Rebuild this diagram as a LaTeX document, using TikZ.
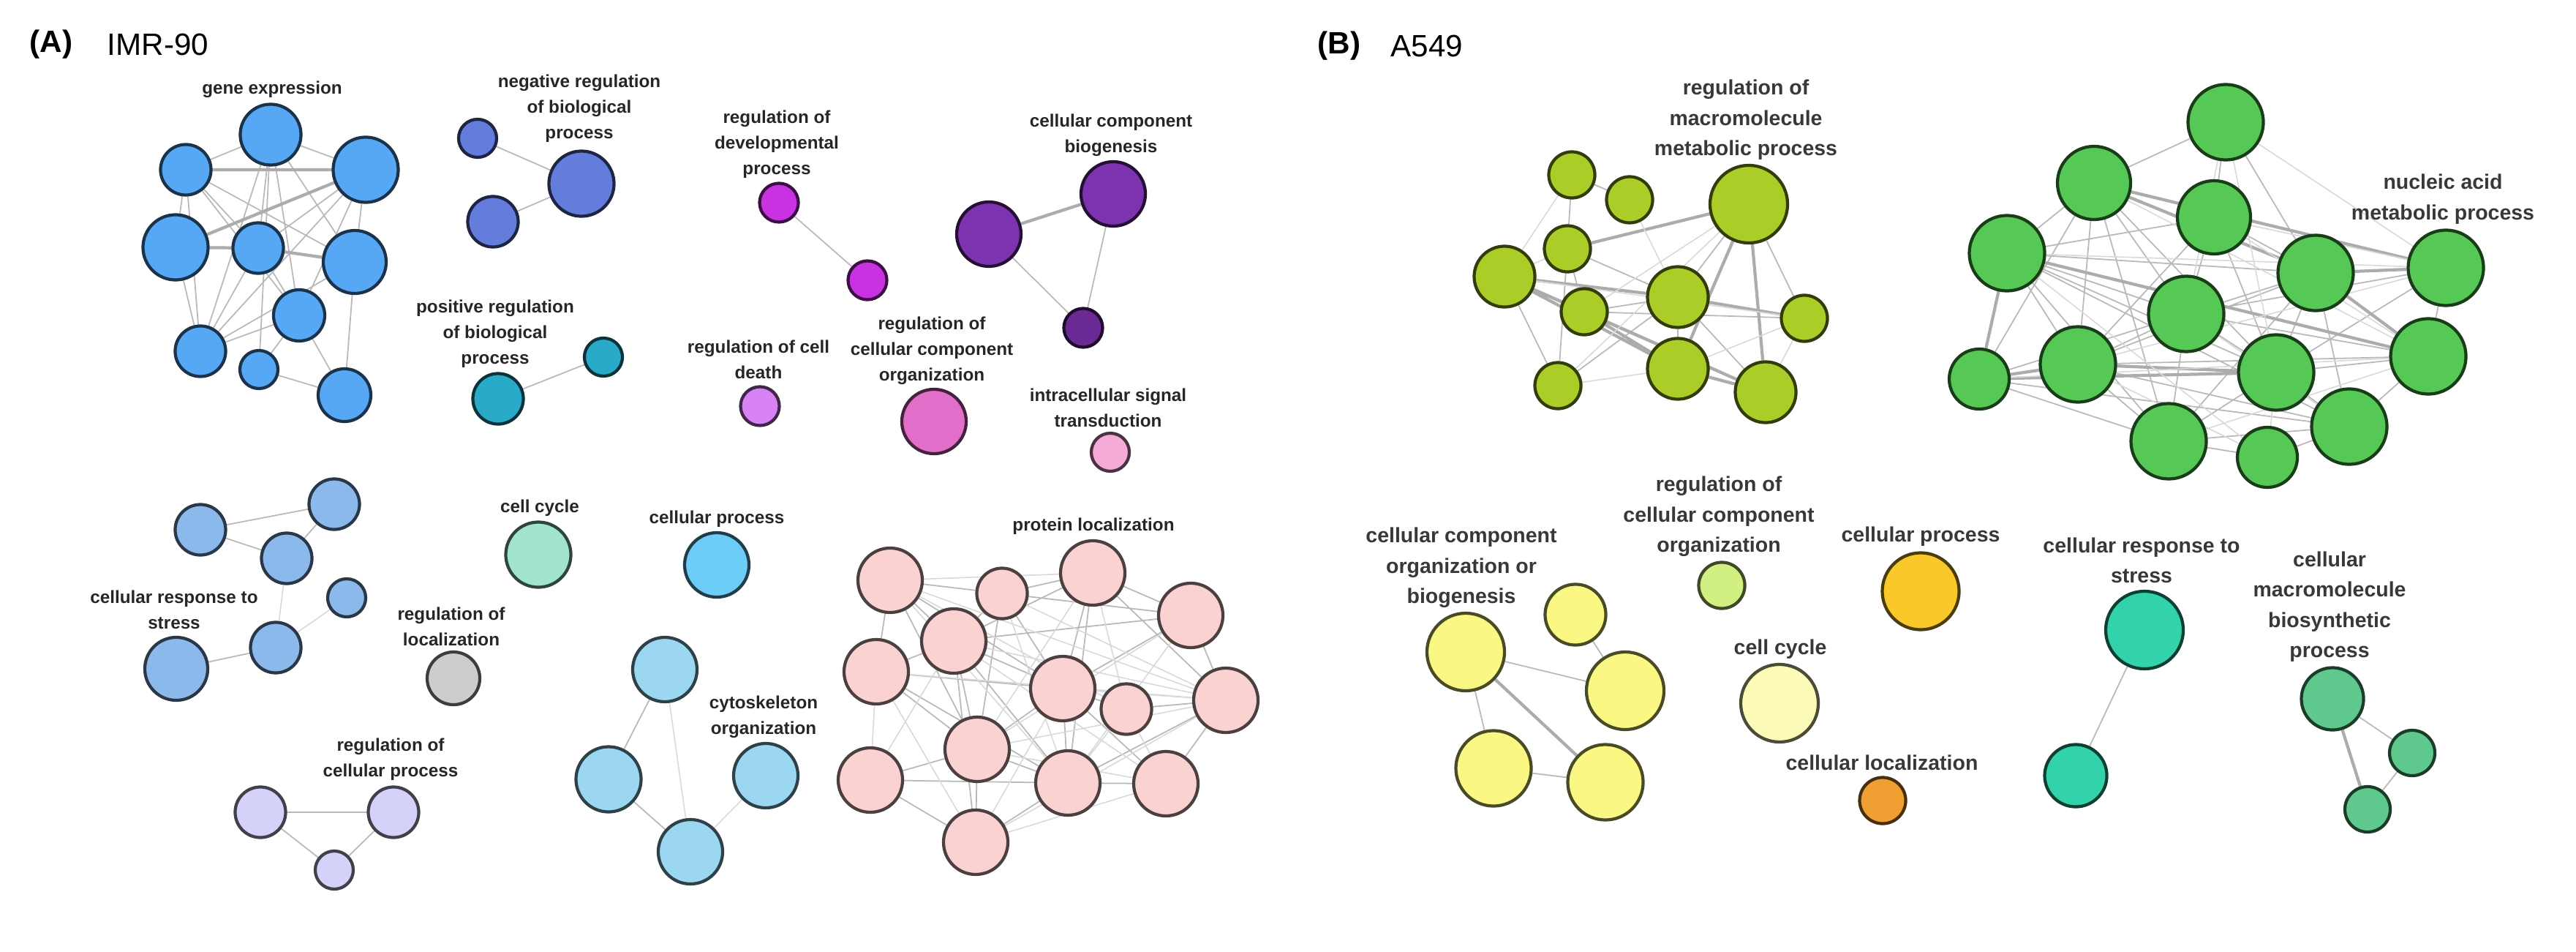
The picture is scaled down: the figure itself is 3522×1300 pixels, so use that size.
\documentclass[tikz,border=0pt]{standalone}
\usepackage{fontspec}
\setmainfont{Liberation Sans}
\usetikzlibrary{backgrounds}

% cluster colours
\definecolor{genecol}{RGB}{86,168,245}
\definecolor{negcol}{RGB}{100,125,220}
\definecolor{poscol}{RGB}{40,170,200}
\definecolor{devcol}{RGB}{200,50,225}
\definecolor{biocol}{RGB}{125,50,175}
\definecolor{deathcol}{RGB}{215,130,245}
\definecolor{rccocol}{RGB}{225,110,200}
\definecolor{sigcol}{RGB}{245,170,215}
\definecolor{stresscol}{RGB}{140,185,235}
\definecolor{cyclecol}{RGB}{160,228,208}
\definecolor{loccol}{RGB}{205,205,205}
\definecolor{rcpcol}{RGB}{212,210,248}
\definecolor{proccol}{RGB}{110,205,248}
\definecolor{cytocol}{RGB}{155,215,240}
\definecolor{protcol}{RGB}{250,210,210}
\definecolor{macrocol}{RGB}{170,205,40}
\definecolor{nuccol}{RGB}{85,200,85}
\definecolor{ccobcol}{RGB}{250,248,130}
\definecolor{rccoBcol}{RGB}{210,240,130}
\definecolor{procBcol}{RGB}{250,200,40}
\definecolor{cycleBcol}{RGB}{252,250,185}
\definecolor{cloccol}{RGB}{240,160,50}
\definecolor{stressBcol}{RGB}{50,210,170}
\definecolor{biosyncol}{RGB}{95,200,140}

\tikzset{
  term/.style={circle, inner sep=0pt, line width=1.2pt, fill=#1, draw=#1!30!black},
  labla/.style={align=center, inner sep=0pt, text=black!85,
    font=\fontsize{6.9}{10}\selectfont\bfseries},
  lablb/.style={align=center, inner sep=0pt, text=black!78,
    font=\fontsize{8.1}{11.8}\selectfont\bfseries},
  panel/.style={anchor=west, inner sep=0pt, font=\fontsize{12}{14}\selectfont},
  link/.style={gray!55, line width=0.5pt},
  heavy/.style={gray!65, line width=1.2pt},
  faint/.style={gray!30, line width=0.45pt}
}

\newcommand{\goterm}[5]{\node[term=#4, minimum size=#5*0.1mm] (#1) at (#2,#3) {};}
\newcommand{\golabel}[4]{\node[labla] (#1) at (#2,#3) {#4};}
\newcommand{\golabelb}[4]{\node[lablb] (#1) at (#2,#3) {#4};}

\begin{document}
\begin{tikzpicture}[x=0.01cm, y=-0.01cm]
        \useasboundingbox (0,0) rectangle (3522,1300);

        % panel titles
        \node[panel, font=\fontsize{12}{14}\selectfont\bfseries] (headA) at (40,61) {(A)};
        \node[panel] (cellA) at (146,61) {IMR-90};
        \node[panel, font=\fontsize{12}{14}\selectfont\bfseries] (headB) at (1801,63) {(B)};
        \node[panel] (cellB) at (1901,63) {A549};

        % gene expression
        \golabel{lgene}{372}{122}{gene expression}
        \goterm{g1}{370}{184}{genecol}{83}
        \goterm{g2}{254}{232}{genecol}{69}
        \goterm{g3}{500}{232}{genecol}{89}
        \goterm{g4}{240}{338}{genecol}{89}
        \goterm{g5}{353}{339}{genecol}{69}
        \goterm{g6}{485}{358}{genecol}{86}
        \goterm{g7}{409}{431}{genecol}{70}
        \goterm{g8}{274}{480}{genecol}{69}
        \goterm{g9}{354}{505}{genecol}{52}
        \goterm{g10}{471}{540}{genecol}{72}

        % negative regulation
        \golabel{lneg}{792}{148}{negative regulation\\of biological\\process}
        \goterm{n1}{653}{189}{negcol}{52}
        \goterm{n2}{795}{251}{negcol}{89}
        \goterm{n3}{674}{303}{negcol}{69}

        % positive regulation
        \golabel{lpos}{677}{456}{positive regulation\\of biological\\process}
        \goterm{p1}{681}{545}{poscol}{69}
        \goterm{p2}{825}{488}{poscol}{52}

        % developmental process
        \golabel{ldev}{1062}{197}{regulation of\\developmental\\process}
        \goterm{d1}{1065}{277}{devcol}{53}
        \goterm{d2}{1186}{383}{devcol}{53}

        % biogenesis
        \golabel{lbio}{1519}{185}{cellular component\\biogenesis}
        \goterm{b1}{1352}{320}{biocol}{88}
        \goterm{b2}{1522}{265}{biocol}{88}
        \goterm{b3}{1481}{448}{biocol!85!black}{53}

        % single terms, upper row
        \golabel{ldeath}{1037}{491}{regulation of cell\\death}
        \goterm{cd}{1039}{555}{deathcol}{53}
        \golabel{lrcco}{1274}{479}{regulation of\\cellular component\\organization}
        \goterm{ro}{1277}{576}{rccocol}{88}
        \golabel{lsig}{1515}{557}{intracellular signal\\transduction}
        \goterm{sig}{1518}{618}{sigcol}{52}

        % cellular response to stress
        \golabel{lstress}{238}{833}{cellular response to\\stress}
        \goterm{s1}{274}{724}{stresscol}{69}
        \goterm{s2}{457}{689}{stresscol}{69}
        \goterm{s3}{392}{763}{stresscol}{69}
        \goterm{s4}{474}{817}{stresscol}{52}
        \goterm{s5}{377}{885}{stresscol}{69}
        \goterm{s6}{241}{914}{stresscol}{86}

        % cell cycle, localization, cellular process
        \golabel{lcycle}{738}{694}{cell cycle}
        \goterm{cc}{736}{758}{cyclecol}{89}
        \golabel{lloc}{617}{856}{regulation of\\localization}
        \goterm{rl}{620}{927}{loccol}{72}
        \golabel{lproc}{980}{709}{cellular process}
        \goterm{cp}{980}{772}{proccol}{88}

        % regulation of cellular process
        \golabel{lrcp}{534}{1038}{regulation of\\cellular process}
        \goterm{r1}{356}{1110}{rcpcol}{69}
        \goterm{r2}{538}{1110}{rcpcol}{69}
        \goterm{r3}{457}{1189}{rcpcol}{52}

        % cytoskeleton
        \golabel{lcyto}{1044}{980}{cytoskeleton\\organization}
        \goterm{c1}{909}{915}{cytocol}{88}
        \goterm{c2}{832}{1065}{cytocol}{89}
        \goterm{c3}{1047}{1060}{cytocol}{88}
        \goterm{c4}{944}{1164}{cytocol}{88}

        % protein localization
        \golabel{lprot}{1495}{719}{protein localization}
        \goterm{q1}{1217}{793}{protcol}{88}
        \goterm{q2}{1370}{811}{protcol}{69}
        \goterm{q3}{1494}{783}{protcol}{88}
        \goterm{q4}{1628}{841}{protcol}{88}
        \goterm{q5}{1198}{918}{protcol}{88}
        \goterm{q6}{1304}{876}{protcol}{88}
        \goterm{q7}{1453}{941}{protcol}{88}
        \goterm{q8}{1540}{969}{protcol}{69}
        \goterm{q9}{1676}{957}{protcol}{88}
        \goterm{q10}{1190}{1066}{protcol}{88}
        \goterm{q11}{1336}{1024}{protcol}{88}
        \goterm{q12}{1460}{1070}{protcol}{88}
        \goterm{q13}{1594}{1071}{protcol}{88}
        \goterm{q14}{1334}{1151}{protcol}{88}

        % B: macromolecule metabolic process
        \golabelb{lmacro}{2387}{164}{regulation of\\macromolecule\\metabolic process}
        \goterm{m1}{2149}{239}{macrocol}{63}
        \goterm{m2}{2228}{273}{macrocol}{63}
        \goterm{m3}{2391}{279}{macrocol}{106}
        \goterm{m4}{2143}{340}{macrocol}{63}
        \goterm{m5}{2057}{378}{macrocol}{83}
        \goterm{m6}{2166}{426}{macrocol}{63}
        \goterm{m7}{2294}{406}{macrocol}{83}
        \goterm{m8}{2467}{435}{macrocol}{63}
        \goterm{m9}{2130}{527}{macrocol}{63}
        \goterm{m10}{2294}{504}{macrocol}{83}
        \goterm{m11}{2414}{536}{macrocol}{83}

        % B: nucleic acid metabolic process
        \golabelb{lnuc}{3340}{272}{nucleic acid\\metabolic process}
        \goterm{k1}{3043}{167}{nuccol}{103}
        \goterm{k2}{2863}{250}{nuccol}{100}
        \goterm{k3}{3027}{297}{nuccol}{100}
        \goterm{k4}{2744}{346}{nuccol}{103}
        \goterm{k5}{3166}{373}{nuccol}{103}
        \goterm{k6}{3344}{366}{nuccol}{103}
        \goterm{k7}{2989}{429}{nuccol}{103}
        \goterm{k8}{2706}{518}{nuccol}{82}
        \goterm{k9}{2841}{498}{nuccol}{103}
        \goterm{k10}{3112}{509}{nuccol}{103}
        \goterm{k11}{3320}{487}{nuccol}{103}
        \goterm{k12}{2965}{603}{nuccol}{103}
        \goterm{k13}{3100}{625}{nuccol}{82}
        \goterm{k14}{3212}{583}{nuccol}{103}

        % B: organization or biogenesis
        \golabelb{lccob}{1998}{776}{cellular component\\organization or\\biogenesis}
        \goterm{y1}{2004}{891}{ccobcol}{106}
        \goterm{y2}{2154}{840}{ccobcol}{83}
        \goterm{y3}{2222}{944}{ccobcol}{106}
        \goterm{y4}{2042}{1050}{ccobcol}{103}
        \goterm{y5}{2195}{1069}{ccobcol}{103}

        % B: single terms
        \golabelb{lrccoB}{2350}{706}{regulation of\\cellular component\\organization}
        \goterm{rc}{2354}{800}{rccoBcol}{63}
        \golabelb{lprocB}{2626}{733}{cellular process}
        \goterm{cpB}{2626}{808}{procBcol}{105}
        \golabelb{lcycleB}{2434}{887}{cell cycle}
        \goterm{ccB}{2433}{961}{cycleBcol}{106}
        \golabelb{lcloc}{2573}{1042}{cellular localization}
        \goterm{cl}{2574}{1094}{cloccol}{63}

        % B: stress
        \golabelb{lstressB}{2928}{766}{cellular response to\\stress}
        \goterm{t1}{2932}{861}{stressBcol}{106}
        \goterm{t2}{2838}{1060}{stressBcol}{85}

        % B: biosynthetic process
        \golabelb{lbiosyn}{3185}{829}{cellular\\macromolecule\\biosynthetic\\process}
        \goterm{u1}{3189}{955}{biosyncol}{85}
        \goterm{u2}{3298}{1029}{biosyncol}{62}
        \goterm{u3}{3237}{1106}{biosyncol}{62}

        \begin{scope}[on background layer]
        % A edges
        \draw[link] (g1) -- (g2)  (g1) -- (g3)  (g1) -- (g5)  (g1) -- (g6)  (g1) -- (g7)
                    (g1) -- (g8)  (g1) -- (g9)  (g2) -- (g4)  (g2) -- (g5)  (g2) -- (g6)
                    (g2) -- (g7)  (g2) -- (g8)  (g3) -- (g5)  (g3) -- (g6)  (g3) -- (g7)
                    (g3) -- (g8)  (g4) -- (g8)  (g5) -- (g8)  (g6) -- (g8)  (g6) -- (g10)
                    (g7) -- (g8)  (g7) -- (g9)  (g7) -- (g10) (g9) -- (g10) (g5) -- (g7);
        \draw[heavy] (g2) -- (g3)  (g4) -- (g5)  (g5) -- (g6)  (g3) -- (g4);
        \draw[link] (n1) -- (n2)  (n3) -- (n2)  (p1) -- (p2)  (d1) -- (d2)
                    (b1) -- (b3)  (b2) -- (b3);
        \draw[heavy] (b1) -- (b2);
        \draw[link] (s1) -- (s2)  (s1) -- (s3)  (s3) -- (s2)  (s6) -- (s5);
        \draw[faint] (s3) -- (s5)  (s4) -- (s5);
        \draw[link] (r1) -- (r2)  (r1) -- (r3)  (r2) -- (r3)
                    (c1) -- (c2)  (c2) -- (c4);
        \draw[faint] (c1) -- (c4)  (c3) -- (c4);
        \draw[link] (q1) -- (q2)  (q1) -- (q5)  (q1) -- (q6)  (q1) -- (q7)  (q1) -- (q11)
                    (q2) -- (q3)  (q2) -- (q6)  (q2) -- (q7)  (q2) -- (q4)  (q2) -- (q11)
                    (q3) -- (q4)  (q3) -- (q7)  (q3) -- (q9)  (q3) -- (q12) (q4) -- (q6)
                    (q4) -- (q7)  (q4) -- (q9)  (q5) -- (q6)  (q5) -- (q7)  (q5) -- (q11)
                    (q5) -- (q12) (q6) -- (q7)  (q6) -- (q11) (q6) -- (q12) (q6) -- (q14)
                    (q7) -- (q8)  (q7) -- (q11) (q7) -- (q12) (q7) -- (q13) (q8) -- (q9)
                    (q9) -- (q12) (q9) -- (q13) (q10) -- (q11) (q10) -- (q12) (q10) -- (q14)
                    (q11) -- (q12) (q11) -- (q14) (q12) -- (q13) (q12) -- (q14) (q3) -- (q6);
        \draw[faint] (q1) -- (q3)  (q1) -- (q12) (q1) -- (q8)  (q2) -- (q9)  (q2) -- (q12)
                    (q3) -- (q11) (q3) -- (q8)  (q4) -- (q11) (q4) -- (q12) (q5) -- (q9)
                    (q5) -- (q10) (q6) -- (q9)  (q6) -- (q13) (q7) -- (q9)  (q7) -- (q14)
                    (q8) -- (q12) (q8) -- (q13) (q9) -- (q11) (q10) -- (q6) (q11) -- (q13)
                    (q9) -- (q14) (q1) -- (q9)  (q5) -- (q14) (q13) -- (q14);
        % B edges
        \draw[link] (m1) -- (m2)  (m1) -- (m4)  (m3) -- (m7)  (m3) -- (m8)  (m4) -- (m6)
                    (m4) -- (m9)  (m4) -- (m7)  (m6) -- (m7)  (m7) -- (m10) (m7) -- (m11)
                    (m9) -- (m7)  (m5) -- (m9)  (m6) -- (m8);
        \draw[heavy] (m3) -- (m4)  (m3) -- (m10) (m3) -- (m11) (m5) -- (m6)  (m5) -- (m7)
                    (m5) -- (m10) (m5) -- (m11) (m6) -- (m10) (m6) -- (m11) (m7) -- (m8)
                    (m10) -- (m11);
        \draw[faint] (m1) -- (m5)  (m2) -- (m7)  (m3) -- (m6)  (m3) -- (m9)  (m8) -- (m10)
                    (m8) -- (m11) (m9) -- (m10) (m4) -- (m5)  (m5) -- (m8);
        \draw[link] (k1) -- (k2)  (k1) -- (k3)  (k1) -- (k5)  (k2) -- (k4)  (k2) -- (k7)
                    (k2) -- (k8)  (k2) -- (k9)  (k2) -- (k10) (k2) -- (k12) (k3) -- (k4)
                    (k3) -- (k5)  (k3) -- (k7)  (k3) -- (k9)  (k3) -- (k10) (k4) -- (k5)
                    (k4) -- (k7)  (k4) -- (k9)  (k4) -- (k10) (k4) -- (k12) (k4) -- (k14)
                    (k5) -- (k7)  (k5) -- (k9)  (k5) -- (k10) (k5) -- (k12) (k5) -- (k14)
                    (k6) -- (k7)  (k6) -- (k11) (k6) -- (k10) (k7) -- (k8)  (k7) -- (k9)
                    (k7) -- (k10) (k7) -- (k11) (k7) -- (k12) (k8) -- (k12) (k8) -- (k14)
                    (k9) -- (k11) (k9) -- (k12) (k9) -- (k14) (k10) -- (k11) (k10) -- (k12)
                    (k10) -- (k14) (k11) -- (k14) (k12) -- (k13) (k12) -- (k14) (k13) -- (k14);
        \draw[heavy] (k2) -- (k5)  (k2) -- (k6)  (k4) -- (k8)  (k5) -- (k6)  (k5) -- (k11)
                    (k8) -- (k9)  (k8) -- (k10) (k9) -- (k10) (k4) -- (k11);
        \draw[faint] (k1) -- (k6)  (k1) -- (k7)  (k1) -- (k10) (k2) -- (k11) (k3) -- (k6)
                    (k3) -- (k11) (k4) -- (k6)  (k4) -- (k13) (k6) -- (k9)  (k7) -- (k14)
                    (k8) -- (k11) (k9) -- (k13) (k10) -- (k13) (k11) -- (k12);
        \draw[link] (y1) -- (y3)  (y1) -- (y4)  (y2) -- (y3)  (y4) -- (y5)
                    (t1) -- (t2)  (u1) -- (u2)  (u2) -- (u3);
        \draw[heavy] (y1) -- (y5)  (u1) -- (u3);
        \end{scope}
\end{tikzpicture}
\end{document}
